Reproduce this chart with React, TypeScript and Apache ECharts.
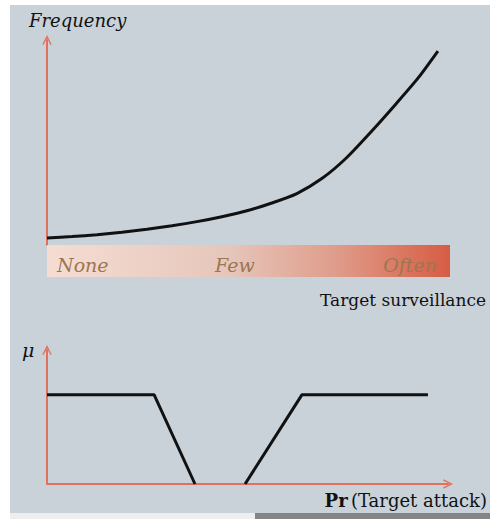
import React, { useEffect, useRef } from "react";
import * as echarts from "echarts";

// Top chart: frequency vs target surveillance
const surveillanceX = [0, 6.2, 12.4, 18.6, 24.8, 31.0, 37.2, 43.4, 49.6, 55.8, 62.0, 68.2, 74.4, 80.6, 86.8, 92.1, 97.0];
const frequencyY = [3.4, 4.1, 5.0, 6.2, 7.7, 9.4, 11.4, 13.8, 16.7, 20.5, 25.1, 32.4, 42.7, 55.6, 69.3, 81.5, 94.6];
const surveillanceLabels = ["None", "Few", "Often"];

// Bottom chart: membership vs Pr(Target attack)
const attackLeftX = [0, 26.7, 36.9];
const attackLeftMu = [1, 1, 0];
const attackRightX = [49.4, 63.6, 95.0];
const attackRightMu = [0, 1, 1];

const AXIS_COLOR = "#e2705e";
const FONT = "'DejaVu Serif', serif";
const ARROW = "path://M0,12 L6,0 L12,12 L10.5,12.8 L6,4 L1.5,12.8 Z";

export default function App() {
  const ref = useRef<HTMLDivElement>(null);
  useEffect(() => {
    if (!ref.current) return;
    const chart = echarts.init(ref.current, undefined, { renderer: "svg" });
    const topData = surveillanceX.map((x, i) => [x, frequencyY[i]]);
    const leftData = attackLeftX.map((x, i) => [x, attackLeftMu[i]]);
    const rightData = attackRightX.map((x, i) => [x, attackRightMu[i]]);
    const axisLine = (show: boolean) => ({
      show,
      symbol: ["none", ARROW],
      symbolSize: [11, 10],
      lineStyle: { color: AXIS_COLOR, width: 2 },
    });
    const labelPos = [
      { x: 57, align: "left" },
      { x: 215, align: "left" },
      { x: 437, align: "right" },
    ];
    chart.setOption({
      animation: false,
      backgroundColor: "#ffffff",
      grid: [
        { left: 47, right: 40, top: 40, height: 205 },
        { left: 47, right: 42, top: 350, bottom: 35 },
      ],
      xAxis: [
        {
          gridIndex: 0, type: "value", min: 0, max: 100,
          axisLine: { show: false }, axisTick: { show: false },
          axisLabel: { show: false }, splitLine: { show: false },
        },
        {
          gridIndex: 1, type: "value", min: 0, max: 100,
          axisLine: axisLine(true), axisTick: { show: false },
          axisLabel: { show: false }, splitLine: { show: false },
        },
      ],
      yAxis: [
        {
          gridIndex: 0, type: "value", min: 0, max: 100,
          axisLine: axisLine(true), axisTick: { show: false },
          axisLabel: { show: false }, splitLine: { show: false },
        },
        {
          gridIndex: 1, type: "value", min: 0, max: 1.5,
          axisLine: axisLine(true), axisTick: { show: false },
          axisLabel: { show: false }, splitLine: { show: false },
        },
      ],
      series: [
        {
          type: "line", xAxisIndex: 0, yAxisIndex: 0, data: topData,
          smooth: 0.25, symbol: "none",
          lineStyle: { color: "#111111", width: 3 },
        },
        {
          type: "line", xAxisIndex: 1, yAxisIndex: 1, data: leftData,
          symbol: "none", lineStyle: { color: "#111111", width: 3 },
        },
        {
          type: "line", xAxisIndex: 1, yAxisIndex: 1, data: rightData,
          symbol: "none", lineStyle: { color: "#111111", width: 3 },
        },
      ],
      graphic: [
        { type: "rect", z: -10, shape: { x: 10, y: 5, width: 480, height: 508 }, style: { fill: "#c9d2d9" } },
        { type: "rect", z: -10, shape: { x: 10, y: 513, width: 245, height: 6 }, style: { fill: "#eeeeee" } },
        { type: "rect", z: -10, shape: { x: 255, y: 513, width: 235, height: 6 }, style: { fill: "#858585" } },
        {
          type: "rect", z: 5, shape: { x: 47, y: 245, width: 403, height: 32 },
          style: {
            fill: new echarts.graphic.LinearGradient(0, 0, 1, 0, [
              { offset: 0, color: "#f5ddd4" },
              { offset: 0.45, color: "#e6c6bb" },
              { offset: 0.72, color: "#df9c8a" },
              { offset: 1, color: "#d75c44" },
            ]),
          },
        },
        ...surveillanceLabels.map((t, i) => ({
          type: "text", z: 6, x: labelPos[i].x, y: 265,
          style: {
            text: t, fill: "#9c7650", font: `italic 19px ${FONT}`,
            textAlign: labelPos[i].align, textVerticalAlign: "middle",
          },
        })),
        {
          type: "text", x: 29, y: 20,
          style: { text: "Frequency", fill: "#111111", font: `italic 18px ${FONT}`, textVerticalAlign: "middle" },
        },
        {
          type: "text", x: 486, y: 300,
          style: { text: "Target surveillance", fill: "#111111", font: `17px ${FONT}`, textAlign: "right", textVerticalAlign: "middle" },
        },
        {
          type: "text", x: 22, y: 350,
          style: { text: "μ", fill: "#111111", font: `italic 19px ${FONT}`, textVerticalAlign: "middle" },
        },
        {
          type: "text", x: 487, y: 500,
          style: {
            text: "{b|Pr} {r|(Target attack)}",
            textAlign: "right", textVerticalAlign: "middle",
            rich: {
              b: { fontFamily: FONT, fontSize: 18, fontWeight: "bold", fill: "#111111" },
              r: { fontFamily: FONT, fontSize: 18, fill: "#111111" },
            },
          },
        },
      ],
    });
    return () => chart.dispose();
  }, []);
  return (
    <div
      ref={ref}
      style={{ position: "fixed", left: 0, top: 0, width: 490, height: 519 }}
    />
  );
}
